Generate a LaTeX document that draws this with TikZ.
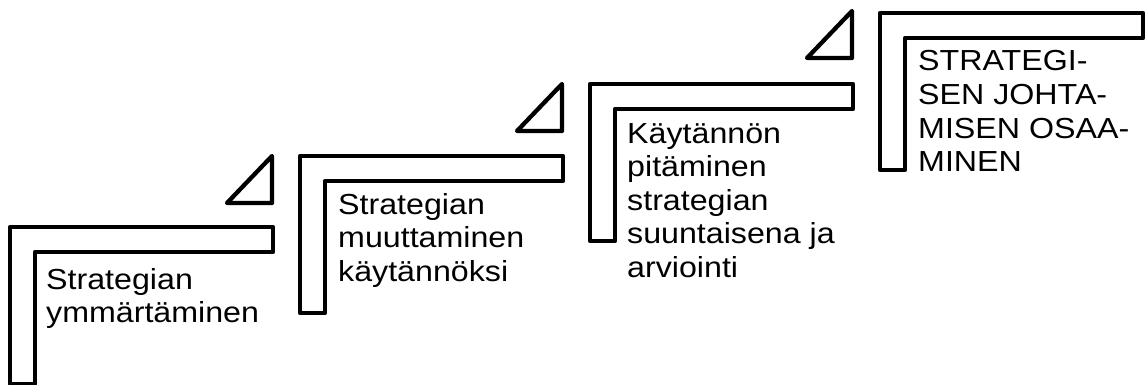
\documentclass[tikz,border=0pt]{standalone}
\usepackage{fontspec}
\setmainfont[FakeStretch=1.11]{Liberation Sans}
\tikzset{
  stair/.style={draw=black, line width=4.3pt, line join=round, fill=white},
  steptext/.style={anchor=base west, inner sep=0pt, align=left,
    font=\fontsize{29}{33.5}\selectfont},
}
\newcommand{\stairL}[2]{%
  \draw[stair] (#1,#2) -- ++(263,0) -- ++(0,25) -- ++(-238,0) -- ++(0,132) -- ++(-25,0) -- cycle;}
\newcommand{\stairT}[2]{%
  \draw[stair] (#1,#2) -- ++(0,47) -- ++(-45,0) -- cycle;}
\begin{document}
\begin{tikzpicture}[x=1pt,y=-1pt]
\useasboundingbox (0,0) rectangle (1147,385);
\stairL{10}{227}
\stairL{300}{156}
\stairL{590}{84}
\stairL{880}{13}
\stairT{272}{156}
\stairT{562}{84}
\stairT{852}{11}
\node[steptext] (t1) at (46,322.5) {Strategian\\ymmärtäminen};
\node[steptext] (t2) at (338,281) {Strategian\\muuttaminen\\käytännöksi};
\node[steptext] (t3) at (627,277) {Käytännön\\pitäminen\\strategian\\suuntaisena ja\\arviointi};
\node[steptext] (t4) at (918,171.5) {STRATEGI-\\SEN JOHTA-\\MISEN OSAA-\\MINEN};
\end{tikzpicture}
\end{document}
